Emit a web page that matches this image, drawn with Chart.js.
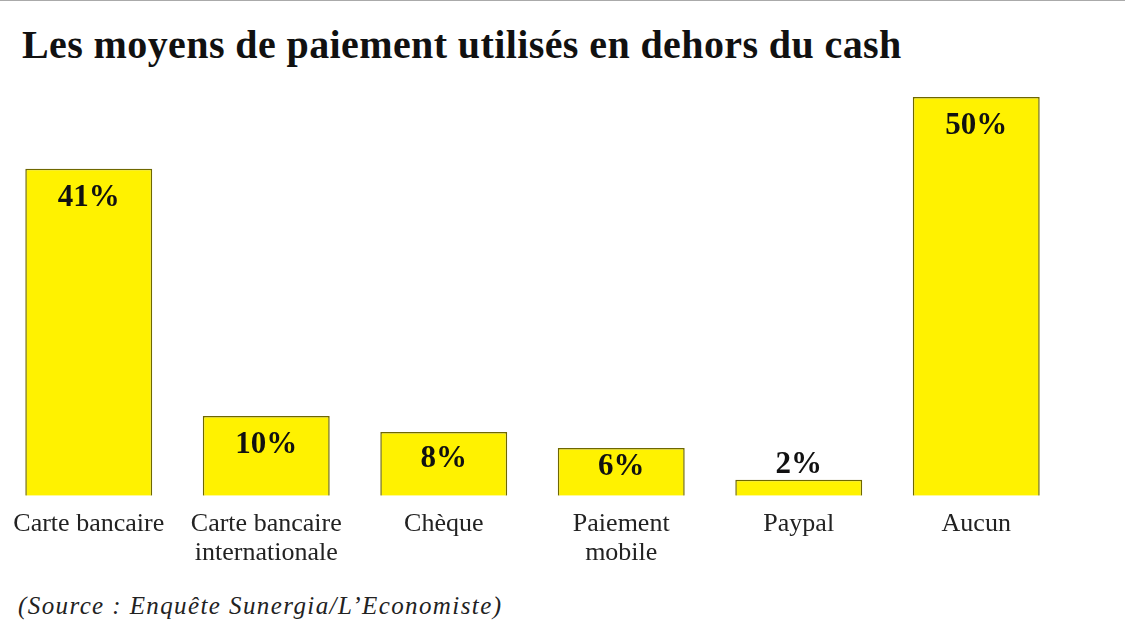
<!DOCTYPE html>
<html lang="fr">
<head>
<meta charset="UTF-8" />
<title>Les moyens de paiement utilisés en dehors du cash</title>
<script src="https://cdn.jsdelivr.net/npm/chart.js"></script>
<style>
  body {
    margin: 0;
    background: #fff;
    width: 1125px;
    height: 636px;
    overflow: hidden;
    position: relative;
    font-family: "Liberation Serif", "DejaVu Serif", serif;
  }
  .topline {
    position: absolute;
    left: 0; top: 0;
    width: 1125px; height: 1px;
    background: #aaa;
  }
  h1 {
    position: absolute;
    left: 22px;
    top: 21px;
    margin: 0;
    font-size: 40px;
    font-weight: bold;
    color: #111;
    letter-spacing: 0.4px;
  }
  .source {
    position: absolute;
    left: 18px;
    top: 592px;
    font-size: 25px;
    font-style: italic;
    color: #222;
    letter-spacing: 1.4px;
  }
  .chart-box {
    position: absolute;
    left: 0;
    top: 70px;
    width: 1125px;
    height: 503px;
  }
</style>
</head>
<body>
<div class="topline"></div>
<h1>Les moyens de paiement utilisés en dehors du cash</h1>
<div class="chart-box"><canvas id="chart"></canvas></div>
<div class="source">(Source : Enquête Sunergia/L’Economiste)</div>

<script>
const categories = [
  "Carte bancaire",
  ["Carte bancaire", "internationale"],
  "Chèque",
  ["Paiement", "mobile"],
  "Paypal",
  "Aucun"
];
const values = [41, 10, 8, 6, 2, 50];

// draws the "41%" style labels inside or above each bar
const valueLabels = {
  id: "valueLabels",
  afterDatasetsDraw(chart) {
    const ctx = chart.ctx;
    const meta = chart.getDatasetMeta(0);
    ctx.save();
    ctx.font = "bold 31px 'Liberation Serif', serif";
    ctx.fillStyle = "#111";
    ctx.textAlign = "center";
    ctx.textBaseline = "middle";
    meta.data.forEach((bar, i) => {
      const top = bar.y;
      const bottom = bar.base;
      const h = bottom - top;
      let y;
      if (h > 40) {
        y = Math.min(top + 29, (top + bottom) / 2 - 5);
      } else {
        y = top - 15;
      }
      ctx.fillText(values[i] + "%", bar.x, y);
    });
    ctx.restore();
  }
};

new Chart(document.getElementById("chart"), {
  type: "bar",
  data: {
    labels: categories,
    datasets: [{
      data: values,
      backgroundColor: "#fff200",
      borderColor: "#6e6700",
      borderWidth: 1.5,
      categoryPercentage: 1,
      barPercentage: 0.715
    }]
  },
  options: {
    responsive: true,
    maintainAspectRatio: false,
    animation: false,
    layout: {
      padding: { left: 0, right: 60, top: 27, bottom: 0 }
    },
    plugins: {
      legend: { display: false },
      tooltip: { enabled: false }
    },
    scales: {
      y: {
        display: false,
        min: 0,
        max: 50
      },
      x: {
        grid: { display: false },
        border: { display: false },
        ticks: {
          color: "#222",
          padding: 6,
          maxRotation: 0,
          autoSkip: false,
          font: { family: "'Liberation Serif', serif", size: 26, lineHeight: 1.1 }
        }
      }
    }
  },
  plugins: [valueLabels]
});
</script>
</body>
</html>
